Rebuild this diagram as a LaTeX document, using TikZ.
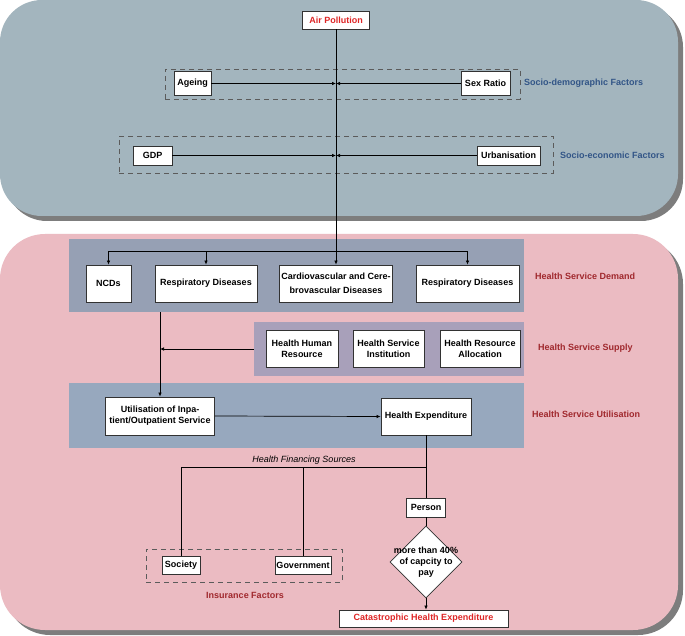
\documentclass[tikz,border=0pt]{standalone}
\usepackage{fontspec}
\setmainfont{Liberation Sans}
\usetikzlibrary{shapes.geometric,arrows.meta}
\definecolor{topbg}{RGB}{163,181,190}
\definecolor{pinkbg}{RGB}{235,187,194}
\definecolor{shadowc}{RGB}{125,125,125}
\definecolor{demandc}{RGB}{150,160,180}
\definecolor{supplyc}{RGB}{168,160,186}
\definecolor{utilc}{RGB}{151,168,190}
\definecolor{boxc}{RGB}{50,50,50}
\definecolor{redtxt}{RGB}{222,38,38}
\definecolor{darkred}{RGB}{160,40,45}
\definecolor{bluetxt}{RGB}{50,85,135}
\tikzset{
  box/.style={draw=boxc, fill=white, line width=0.8pt, font=\fontsize{9}{11}\selectfont\bfseries, inner sep=1pt, align=center},
  dbox/.style={draw=boxc!80, line width=0.8pt, dash pattern=on 5pt off 4pt, inner sep=0pt},
  band/.style={inner sep=0pt},
  grouplabel/.style={font=\fontsize{9}{11}\selectfont\bfseries, anchor=west, inner sep=0pt},
  conn/.style={draw=black, line width=0.7pt},
  arr/.style={conn, -{Latex[length=4pt,width=3.5pt]}},
  diam/.style={diamond, draw=boxc, fill=white, line width=0.8pt, inner sep=0pt, minimum width=72pt, minimum height=72pt}
}
\begin{document}
\begin{tikzpicture}[x=1pt,y=-1pt]
\useasboundingbox (0,0) rectangle (685,636);
% regions
\fill[shadowc, rounded corners=42pt] (5,5) rectangle (683,221);
\fill[topbg, rounded corners=42pt] (0,0) rectangle (678,216);
\fill[shadowc, rounded corners=45pt] (5,239) rectangle (683,635);
\fill[pinkbg, rounded corners=45pt] (0,234) rectangle (678,630);
% bands
\node[band, fill=demandc, minimum width=455pt, minimum height=73pt] (demand) at (296.5,275.5) {};
\node[band, fill=supplyc, minimum width=270pt, minimum height=54pt] (supply) at (389,349) {};
\node[band, fill=utilc, minimum width=455pt, minimum height=65pt] (util) at (296.5,415.5) {};
% dashed groups
\node[dbox, minimum width=355pt, minimum height=30pt] (sdg) at (342.5,84) {};
\node[dbox, minimum width=434pt, minimum height=37pt] (seg) at (336,154.5) {};
\node[dbox, minimum width=196pt, minimum height=33pt] (ing) at (244,565.5) {};
% top boxes
\node[box, text=redtxt, minimum width=67pt, minimum height=18pt] (air) at (336,20) {Air Pollution};
\node[box, minimum width=37pt, minimum height=24pt] (ageing) at (192.5,83.5) {Ageing};
\node[box, minimum width=49pt, minimum height=24pt] (sex) at (485.5,83.5) {Sex Ratio};
\node[box, minimum width=39pt, minimum height=19pt] (gdp) at (152.5,155.5) {GDP};
\node[box, minimum width=63pt, minimum height=19pt] (urb) at (508.5,155.5) {Urbanisation};
\node[grouplabel, text=bluetxt] (sdl) at (524,83.5) {Socio-demographic Factors};
\node[grouplabel, text=bluetxt] (sel) at (560,155.5) {Socio-economic Factors};
% demand boxes
\node[box, minimum width=45pt, minimum height=37pt] (ncd) at (108.5,283.5) {NCDs};
\node[box, minimum width=102pt, minimum height=37pt] (resp1) at (206,283.5) {Respiratory Diseases};
\node[box, minimum width=113pt, minimum height=37pt] (cardio) at (336,283.5) {Cardiovascular and Cere-\\[3pt]brovascular Diseases};
\node[box, minimum width=103pt, minimum height=37pt] (resp2) at (467.5,283.5) {Respiratory Diseases};
% supply boxes
\node[box, minimum width=72pt, minimum height=37pt] (hhr) at (302,348.5) {Health Human\\Resource};
\node[box, minimum width=71pt, minimum height=37pt] (hsi) at (388.5,348.5) {Health Service\\Institution};
\node[box, minimum width=80pt, minimum height=37pt] (hra) at (480,348.5) {Health Resource\\Allocation};
% utilisation boxes
\node[box, minimum width=109pt, minimum height=38pt] (use) at (160,416) {Utilisation of Inpa-\\tient/Outpatient Service};
\node[box, minimum width=90pt, minimum height=37pt] (hexp) at (426,416.5) {Health Expenditure};
% group labels bottom
\node[grouplabel, text=darkred] (hsd) at (535,276) {Health Service Demand};
\node[grouplabel, text=darkred] (hss) at (538,348) {Health Service Supply};
\node[grouplabel, text=darkred] (hsu) at (532,414) {Health Service Utilisation};
% financing
\node[box, minimum width=39pt, minimum height=19pt] (person) at (426,507.5) {Person};
\node[diam, label={[font=\fontsize{9}{10.8}\selectfont\bfseries, align=center, inner sep=0pt]center:more than 40\%\\of capcity to\\pay}] (dia) at (426,562) {};
\node[box, text=redtxt, minimum width=169pt, minimum height=17pt] (cat) at (423.5,618.5) {Catastrophic Health Expenditure};
\node[box, minimum width=38pt, minimum height=18pt] (soc) at (181,565) {Society};
\node[box, minimum width=56pt, minimum height=18pt] (gov) at (303,565) {Government};
\node[font=\fontsize{9}{11}\selectfont\bfseries, text=darkred, inner sep=0pt] (insl) at (245,595) {Insurance Factors};
% connectors
\draw[arr] (air.south) -- (cardio.north);
\draw[arr] (ageing.east) -- (air.south |- ageing.east);
\draw[arr] (sex.west) -- (air.south |- sex.west);
\draw[arr] (gdp.east) -- (air.south |- gdp.east);
\draw[arr] (urb.west) -- (air.south |- urb.west);
\coordinate (bus) at (336,251);
\draw[arr] (bus) -| (ncd.north);
\draw[arr] (bus) -| (resp1.north);
\draw[arr] (bus) -| (resp2.north);
\draw[arr] (demand.south -| use.north) -- (use.north);
\draw[arr] (supply.west) -- (supply.west -| use.north);
\draw[arr] (use.east) -- (hexp.west);
\coordinate (fin) at (426,467);
\draw[conn] (hexp.south) -- (person.north);
\draw[conn] (fin) -- (soc.north |- fin) -- (soc.north);
\draw[conn] (gov.north |- fin) -- (gov.north);
\node[font=\fontsize{9}{11}\selectfont\itshape, anchor=south, inner sep=1pt] (hfs) at (304,466) {Health Financing Sources};
\draw[conn] (person.south) -- (dia.north);
\draw[arr] (dia.south) -- (dia.south |- cat.north);
\end{tikzpicture}
\end{document}
